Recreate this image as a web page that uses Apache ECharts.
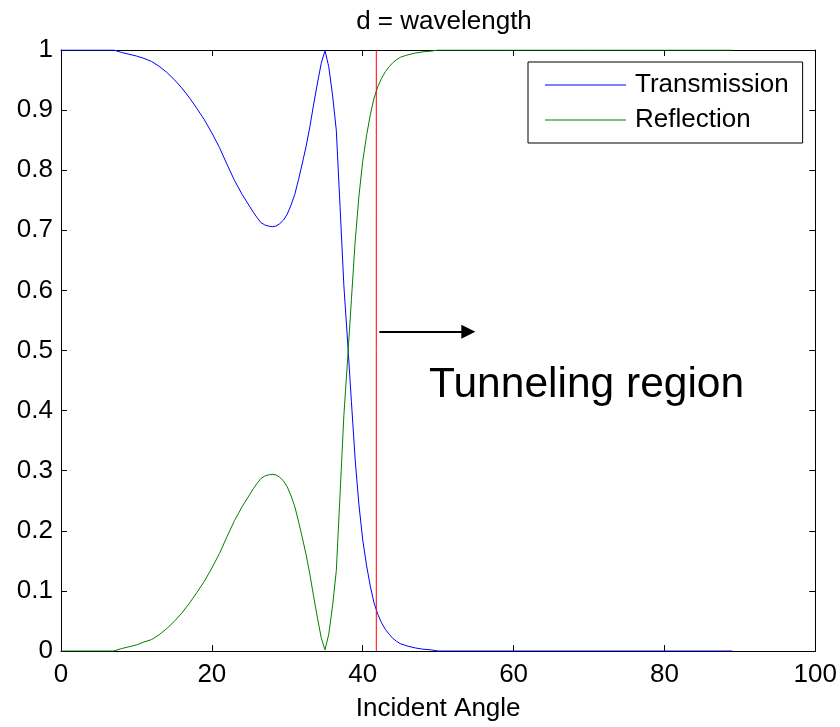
<!DOCTYPE html>
<html>
<head>
<meta charset="utf-8">
<script src="https://cdn.jsdelivr.net/npm/echarts@6/dist/echarts.min.js"></script>
<style>
html,body{margin:0;padding:0;background:#fff;}
#chart{width:840px;height:727px;}
</style>
</head>
<body>
<div id="chart"></div>
<script>
// ---- data ----
const angles = [
  0,1,2,3,4,5,6,7,8,9,
  10,11,12,13,14,15,16,17,18,19,
  20,21,22,23,24,25,
  25.5,26,26.5,27,27.5,28,28.5,29,29.5,30,
  30.5,31,31.5,32,32.5,33,33.5,34,34.5,35,
  35.5,36,36.5,37,37.5,38,38.5,39,39.5,40,
  40.5,41,41.5,42,42.5,43,43.5,44,44.5,45,
  45.5,46,
  47,48,49,
  50,51,52,53,54,55,56,57,58,59,
  60,61,62,63,64,65,66,67,68,69,
  70,71,72,73,74,75,76,77,78,79,
  80,81,82,83,84,85,86,87,88,89];
const transmission = [
  1,1,1,1,1,1,1,1,0.996,0.993,
  0.990,0.986,0.981,0.973,0.963,0.951,0.937,0.921,0.903,0.884,
  0.862,0.838,0.810,0.783,0.760,0.740,
  0.730,0.721,0.713,0.709,0.707,0.706,0.707,0.711,0.717,0.727,
  0.742,0.760,0.785,0.812,0.840,0.873,0.910,0.945,0.978,0.999,
  0.972,0.925,0.866,0.738,0.608,0.514,0.415,0.318,0.243,0.185,
  0.143,0.108,0.080,0.061,0.047,0.036,0.028,0.021,0.016,0.012,
  0.010,0.008,
  0.005,0.003,0.002,
  0,0,0,0,0,0,0,0,0,0,
  0,0,0,0,0,0,0,0,0,0,
  0,0,0,0,0,0,0,0,0,0,
  0,0,0,0,0,0,0,0,0,0];
const reflection = [
  0,0,0,0,0,0,0,0,0.004,0.007,
  0.010,0.015,0.019,0.027,0.037,0.049,0.063,0.079,0.097,0.116,
  0.138,0.162,0.190,0.217,0.240,0.260,
  0.270,0.279,0.287,0.291,0.293,0.294,0.293,0.289,0.283,0.273,
  0.258,0.240,0.215,0.188,0.160,0.127,0.090,0.055,0.022,0.002,
  0.028,0.075,0.134,0.262,0.392,0.486,0.585,0.682,0.757,0.815,
  0.857,0.892,0.920,0.939,0.953,0.964,0.972,0.979,0.984,0.988,
  0.990,0.992,
  0.995,0.997,0.998,
  1,1,1,1,1,1,1,1,1,1,
  1,1,1,1,1,1,1,1,1,1,
  1,1,1,1,1,1,1,1,1,1,
  1,1,1,1,1,1,1,1,1,1];
const criticalAngle = 41.8;
const arrowFrom = [42.2, 0.531];
const arrowTo = [54.0, 0.531];
const annotationText = 'Tunneling region';
const annotationPos = [48.8, 0.442];
const xTicks = {min: 0, max: 100, interval: 20};
const yTicks = {min: 0, max: 1, interval: 0.1};
const titleText = 'd = wavelength';
const xName = 'Incident Angle';

// ---- chart ----
const FONT = "'Liberation Sans', Arial, sans-serif";
const chart = echarts.init(document.getElementById('chart'), null, {renderer: 'canvas'});
const pair = (ys) => angles.map((a, i) => [a, ys[i]]);

const axisCommon = {
  axisLine: {show: true, onZero: false, lineStyle: {color: '#000', width: 1}},
  axisTick: {show: true, inside: true, length: 6, lineStyle: {color: '#000', width: 1}},
  splitLine: {show: false}
};

chart.setOption({
  animation: false,
  backgroundColor: '#fff',
  title: {
    text: titleText, left: 439, top: 4, textAlign: 'center',
    textStyle: {fontFamily: FONT, fontSize: 26, fontWeight: 'normal', color: '#000'}
  },
  grid: {left: 61, right: 23, top: 50, bottom: 73, containLabel: false},
  legend: {
    data: ['Transmission', 'Reflection'],
    orient: 'vertical', left: 528, top: 62,
    icon: 'rect',
    backgroundColor: '#fff', borderColor: '#000', borderWidth: 1, borderRadius: 0,
    padding: [8, 14, 8, 17],
    itemWidth: 81, itemHeight: 1, itemGap: 5,
    textStyle: {fontFamily: FONT, fontSize: 26, color: '#000', lineHeight: 30, padding: [0, 0, 0, 4]}
  },
  xAxis: [
    Object.assign({type: 'value', position: 'bottom', min: xTicks.min, max: xTicks.max, interval: xTicks.interval,
      name: xName, nameLocation: 'middle', nameGap: 45,
      nameTextStyle: {fontFamily: FONT, fontSize: 26, color: '#000'},
      axisLabel: {fontFamily: FONT, fontSize: 26, color: '#000', margin: 11}}, axisCommon),
    Object.assign({type: 'value', position: 'top', min: xTicks.min, max: xTicks.max, interval: xTicks.interval,
      axisLabel: {show: false}}, axisCommon)
  ],
  yAxis: [
    Object.assign({type: 'value', position: 'left', min: yTicks.min, max: yTicks.max, interval: yTicks.interval,
      axisLabel: {fontFamily: FONT, fontSize: 26, color: '#000', margin: 8}}, axisCommon),
    Object.assign({type: 'value', position: 'right', min: yTicks.min, max: yTicks.max, interval: yTicks.interval,
      axisLabel: {show: false}}, axisCommon)
  ],
  series: [
    {
      name: 'Transmission', type: 'line', data: pair(transmission),
      symbol: 'none', lineStyle: {color: '#0000ff', width: 1}, itemStyle: {color: '#0000ff'},
      silent: true, z: 3
    },
    {
      name: 'Reflection', type: 'line', data: pair(reflection),
      symbol: 'none', lineStyle: {color: '#008000', width: 1}, itemStyle: {color: '#008000'},
      silent: true, z: 3
    },
    {
      name: 'critical', type: 'line', data: [[criticalAngle, yTicks.min], [criticalAngle, yTicks.max]],
      symbol: 'none', lineStyle: {color: '#ff0000', width: 1}, silent: true, z: 4,
      markLine: {
        silent: true, animation: false,
        symbol: ['none', 'triangle'], symbolSize: [14, 14],
        lineStyle: {color: '#000', width: 2, type: 'solid'},
        itemStyle: {color: '#000'},
        label: {show: false},
        data: [[{coord: arrowFrom}, {coord: arrowTo}]]
      }
    },
    {
      name: 'annotation', type: 'scatter', data: [annotationPos],
      symbolSize: 0, silent: true,
      itemStyle: {opacity: 1, color: '#000'},
      label: {show: true, position: 'right', distance: 0, formatter: annotationText,
        fontFamily: FONT, fontSize: 42.5, color: '#000', opacity: 1}
    }
  ]
});
</script>
</body>
</html>
